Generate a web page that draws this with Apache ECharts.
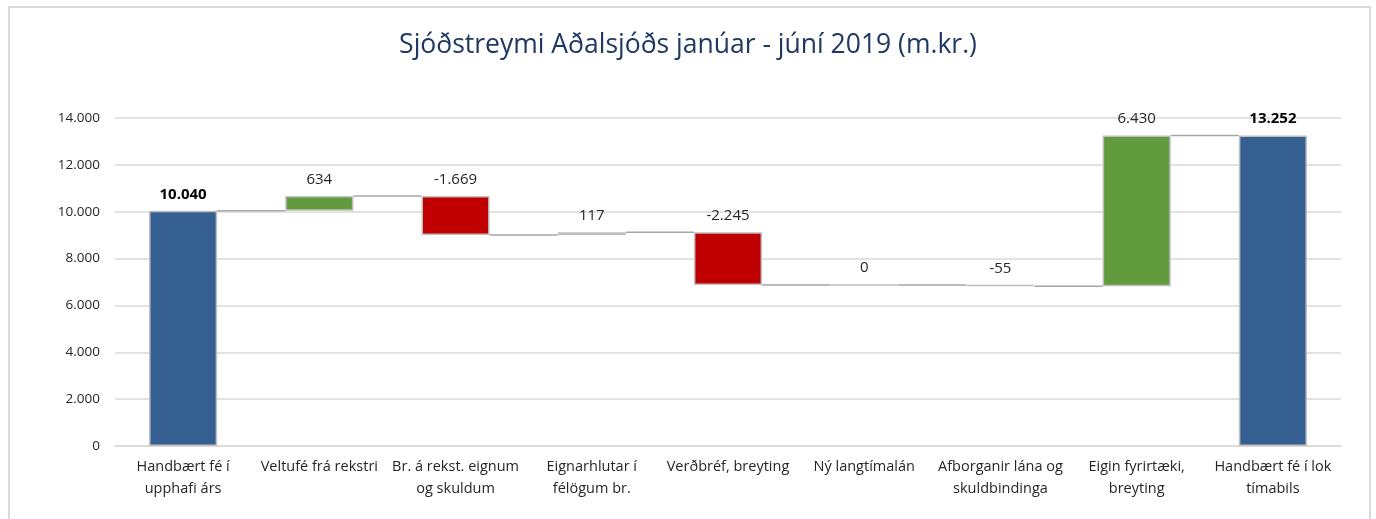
<!DOCTYPE html>
<html>
<head>
<meta charset="utf-8">
<script src="https://cdn.jsdelivr.net/npm/echarts@6/dist/echarts.min.js"></script>
<style>
  html, body { margin: 0; padding: 0; background: #fff; }
  #chart { width: 1376px; height: 519px; }
</style>
</head>
<body>
<div id="chart"></div>
<script>
// categories and changes (m.kr.)
const categories = [
  'Handbært fé í\nupphafi árs',
  'Veltufé frá rekstri',
  'Br. á rekst. eignum\nog skuldum',
  'Eignarhlutar í\nfélögum br.',
  'Verðbréf, breyting',
  'Ný langtímalán',
  'Afborganir lána og\nskuldbindinga',
  'Eigin fyrirtæki,\nbreyting',
  'Handbært fé í lok\ntímabils'
]
const changes = [10040, 634, -1669, 117, -2245, 0, -55, 6430, 13252]
const isTotal = [true, false, false, false, false, false, false, false, true]
const yTicks = { min: 0, max: 14000, interval: 2000 }

const COLOR_TOTAL = '#365F91'
const COLOR_UP = '#629B3E'
const COLOR_DOWN = '#C00000'

const fmt = (v) => {
  const s = Math.abs(v).toString().replace(/\B(?=(\d{3})+(?!\d))/g, '.')
  return (v < 0 ? '-' : '') + s
}

// build waterfall: invisible base + visible part, and the level after each step
const base = []
const visible = []
const levels = []
let running = 0
changes.forEach((v, i) => {
  if (isTotal[i]) {
    base.push(0)
    visible.push(v)
    running = v
  } else {
    const next = running + v
    base.push(Math.min(running, next))
    visible.push(Math.abs(v))
    running = next
  }
  levels.push(running)
})

const connectors = []
for (let i = 0; i < levels.length - 1; i += 1) {
  connectors.push([i, levels[i]])
}

const chart = echarts.init(document.getElementById('chart'))
const labelFont = '"Open Sans", "Noto Sans", sans-serif'

chart.setOption({
  animation: false,
  textStyle: { fontFamily: labelFont },
  title: {
    text: 'Sjóðstreymi Aðalsjóðs janúar - júní 2019 (m.kr.)',
    left: 'center',
    top: 27,
    textStyle: { color: '#1F3864', fontSize: 26.5, fontWeight: 'normal', fontFamily: labelFont }
  },
  graphic: [{
    type: 'rect',
    shape: { x: 9, y: 7, width: 1361, height: 530 },
    style: { fill: 'none', stroke: '#D9D9D9', lineWidth: 2 },
    silent: true
  }],
  grid: { left: 115, right: 35, top: 118, bottom: 73, containLabel: false },
  xAxis: {
    type: 'category',
    data: categories,
    axisLine: { lineStyle: { color: '#D9D9D9', width: 1.5 } },
    axisTick: { show: false },
    axisLabel: { color: '#262626', fontSize: 14.5, lineHeight: 22, margin: 10, interval: 0 }
  },
  yAxis: {
    type: 'value',
    min: yTicks.min,
    max: yTicks.max,
    interval: yTicks.interval,
    axisLine: { show: false },
    axisTick: { show: false },
    splitLine: { lineStyle: { color: '#D9D9D9', width: 1.5 } },
    axisLabel: { color: '#262626', fontSize: 13.5, margin: 15, formatter: (v) => fmt(v) }
  },
  series: [
    {
      type: 'custom',
      z: 1,
      data: connectors,
      renderItem: (params, api) => {
        const i = api.value(0)
        const y = api.value(1)
        const p1 = api.coord([i, y])
        const p2 = api.coord([i + 1, y])
        const half = api.size([1, 0])[0] * 0.25
        return {
          type: 'line',
          shape: { x1: p1[0] + half, y1: p1[1], x2: p2[0] - half, y2: p2[1] },
          style: { stroke: '#A6A6A6', lineWidth: 1.5 }
        }
      }
    },
    {
      type: 'bar',
      stack: 'wf',
      z: 2,
      barWidth: '50%',
      itemStyle: { color: 'transparent' },
      emphasis: { disabled: true },
      data: base
    },
    {
      type: 'bar',
      stack: 'wf',
      z: 2,
      barWidth: '50%',
      data: visible.map((v, i) => ({
        value: v,
        itemStyle: {
          color: isTotal[i] ? COLOR_TOTAL : (changes[i] >= 0 ? COLOR_UP : COLOR_DOWN),
          borderColor: '#BFBFBF',
          borderWidth: 1.5
        },
        label: {
          fontWeight: isTotal[i] ? 'bold' : 'normal',
          color: isTotal[i] ? '#000000' : '#262626'
        }
      })),
      label: {
        show: true,
        position: 'top',
        distance: 9,
        fontSize: 15,
        formatter: (p) => fmt(changes[p.dataIndex])
      }
    }
  ]
})
</script>
</body>
</html>
